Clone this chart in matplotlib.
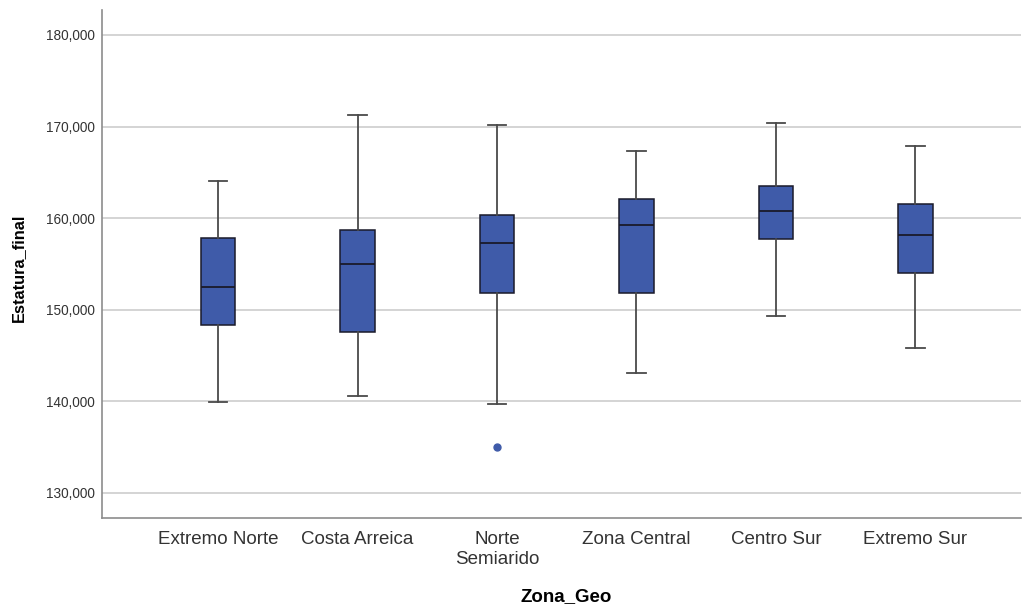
import matplotlib
matplotlib.use('Agg')
import matplotlib.pyplot as plt
from matplotlib.ticker import FuncFormatter

# ─── Data ─────────────────────────────────────────────────────────────────────
zonas = ['Extremo Norte', 'Costa Arreica', 'Norte\nSemiarido',
         'Zona Central', 'Centro Sur', 'Extremo Sur']
whisker_lo = [139934, 140557, 139683, 143035, 149258, 145797]
q1         = [148341, 147511, 151834, 151768, 157664, 153952]
median     = [152424, 154934, 157260, 159192, 160753, 158133]
q3         = [157773, 158646, 160284, 162063, 163515, 161550]
whisker_hi = [164061, 171310, 170218, 167303, 170393, 167926]
outliers   = [[], [], [134990], [], [], []]

yticks = [130000, 140000, 150000, 160000, 170000, 180000]

BOX_COLOR = '#3F5BA9'
TEXT_COLOR = '#333333'

plt.rcParams['font.family'] = ['Liberation Sans', 'DejaVu Sans']

fig = plt.figure(figsize=(10.22, 6.09), dpi=100, facecolor='white')
ax = fig.add_axes([0.0998, 0.1494, 0.899, 0.8342])

stats = []
for i in range(len(zonas)):
    stats.append(dict(whislo=whisker_lo[i], q1=q1[i], med=median[i],
                      q3=q3[i], whishi=whisker_hi[i], fliers=outliers[i]))

ax.set_axisbelow(True)
ax.grid(axis='y', color='#d4d4d4', linewidth=1.4)
ax.bxp(stats, positions=range(len(zonas)), widths=0.25, patch_artist=True,
       boxprops=dict(facecolor=BOX_COLOR, edgecolor='#1a1a2a', linewidth=1.1),
       medianprops=dict(color='#1a1a2a', linewidth=1.3),
       whiskerprops=dict(color='#4a4a4a', linewidth=1.3),
       capprops=dict(color='#4a4a4a', linewidth=1.3),
       capwidths=0.13,
       flierprops=dict(marker='o', markersize=5, markerfacecolor=BOX_COLOR,
                       markeredgecolor=BOX_COLOR))

ax.set_xlim(-0.832, 5.755)
ax.set_ylim(127240, 182730)
ax.set_yticks(yticks)
ax.yaxis.set_major_formatter(FuncFormatter(lambda v, p: f"{int(v):,}"))
ax.set_xticks(range(len(zonas)))
ax.set_xticklabels(zonas, fontsize=13.5, color=TEXT_COLOR, linespacing=1.2)
ax.tick_params(axis='y', length=0, pad=5, labelsize=9.8, labelcolor=TEXT_COLOR)
ax.tick_params(axis='x', length=0, pad=9.5)

for side in ('top', 'right'):
    ax.spines[side].set_visible(False)
for side in ('left', 'bottom'):
    ax.spines[side].set_color('#8c8c8c')
    ax.spines[side].set_linewidth(1.2)

fig.text(0.0176, 0.56, 'Estatura_final', rotation=90, ha='center', va='center',
         fontsize=11.8, fontweight='bold', color='black')
fig.text(0.554, 0.0197, 'Zona_Geo', ha='center', va='center',
         fontsize=13.5, fontweight='bold', color='black')

fig.savefig('out.png', dpi=100, facecolor='white')
